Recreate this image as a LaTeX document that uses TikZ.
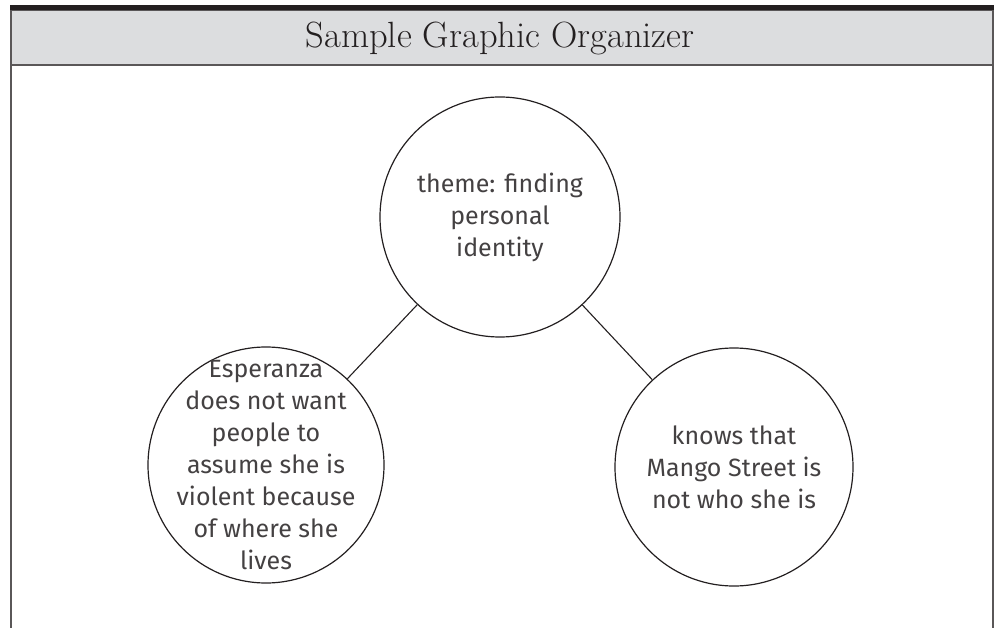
\documentclass[tikz,border=0pt]{standalone}
\usepackage{fontspec}
\newfontfamily\bubblefont{Fira Sans}
\definecolor{headergray}{HTML}{DCDDDF}
\definecolor{ink}{HTML}{231F20}

\begin{document}
\begin{tikzpicture}[x=1pt,y=-1pt,
    bubble/.style={draw=ink,line width=1.2pt,circle,minimum size=#1,inner sep=-40pt,
      align=center,text=ink!85,font=\bubblefont\fontsize{25}{32}\selectfont},
    link/.style={draw=ink,line width=1.1pt}]
  \useasboundingbox (0,0) rectangle (996,628);

  % header bar and frame
  \fill[headergray] (11,10) rectangle (993,65);
  \draw[ink!75,line width=2pt] (11,628) -- (11,10) -- (993,10) -- (993,628);
  \draw[ink!75,line width=2pt] (11,65) -- (993,65);
  \fill[ink] (10,5) rectangle (994,10);
  \node[anchor=base,text=ink,font=\fontsize{36.5}{40}\selectfont] (title) at (500,48) {Sample Graphic Organizer};

  % circles
  \node[bubble=240pt] (theme) at (500,217) {theme: finding\\personal\\identity};
  \node[bubble=236pt] (esperanza) at (266,465) {Esperanza\\does not want\\people to\\assume she is\\violent because\\of where she\\lives};
  \node[bubble=238pt] (mango) at (734,467) {knows that\\Mango Street is\\not who she is};

  \draw[link] (theme) -- (esperanza);
  \draw[link] (theme) -- (mango);
\end{tikzpicture}
\end{document}
